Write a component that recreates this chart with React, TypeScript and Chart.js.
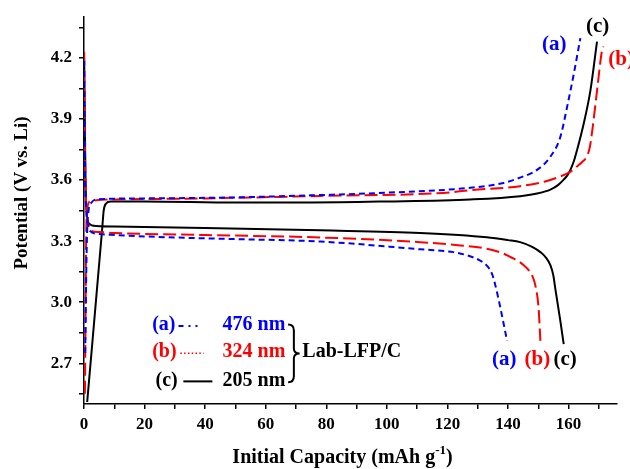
import React, { useEffect, useRef } from 'react';
import { Chart, registerables } from 'chart.js';

Chart.register(...registerables);

const BLUE = '#0000ff';
const RED = '#ff0000';
const BLACK = '#000000';
const FONT = '"Liberation Serif", "Times New Roman", serif';

// (a) 476 nm
const chargeA_cap = [0.4, 0.7, 1.0, 1.5, 2.5, 4, 20, 50, 74.8, 100, 127.5, 138.5, 144, 149.6, 154, 157.3, 159.5, 161.7, 163.9];
const chargeA_v = [2.75, 3.1, 3.33, 3.45, 3.49, 3.505, 3.51, 3.515, 3.525, 3.538, 3.562, 3.586, 3.612, 3.65, 3.715, 3.812, 3.958, 4.119, 4.297];
const dischA_cap = [0.05, 0.2, 0.4, 0.8, 1.3, 2, 5, 10, 30, 50, 78, 111, 122, 127, 130.5, 133, 134.7, 135.8, 137.5, 139.7];
const dischA_v = [4.185, 3.9, 3.6, 3.45, 3.38, 3.35, 3.335, 3.33, 3.318, 3.31, 3.298, 3.26, 3.246, 3.228, 3.207, 3.18, 3.14, 3.085, 2.972, 2.81];

// (b) 324 nm
const chargeB_cap = [0.3, 0.5, 0.7, 1.0, 2, 10, 40, 78, 118.7, 127.5, 144, 152, 157.3, 160.5, 162.8, 164.6, 166, 167, 167.7, 169.4, 171, 171.5];
const chargeB_v = [2.55, 2.9, 3.3, 3.45, 3.495, 3.505, 3.51, 3.522, 3.537, 3.55, 3.57, 3.592, 3.618, 3.64, 3.667, 3.69, 3.715, 3.76, 3.828, 4.038, 4.232, 4.256];
const dischB_cap = [0.05, 0.2, 0.5, 0.8, 1.5, 2.5, 5, 10, 40, 78, 111, 124.3, 133, 138, 140.8, 143.8, 146.3, 148, 149, 150.1, 150.7];
const dischB_v = [4.23, 3.9, 3.6, 3.45, 3.38, 3.35, 3.345, 3.34, 3.33, 3.318, 3.295, 3.279, 3.263, 3.242, 3.222, 3.198, 3.166, 3.13, 3.085, 2.972, 2.81];

// (c) 205 nm
const chargeC_cap = [1.05, 6.0, 6.5, 7.3, 8.7, 20, 50, 75, 100, 127.5, 144, 150, 154, 156.5, 158.4, 159.6, 160.6, 161.8, 162.8, 165, 167.2, 169.4];
const chargeC_v = [2.51, 3.36, 3.45, 3.485, 3.495, 3.495, 3.49, 3.49, 3.495, 3.505, 3.521, 3.535, 3.553, 3.575, 3.602, 3.623, 3.65, 3.695, 3.747, 3.877, 4.038, 4.28];
const dischC_cap = [0.05, 0.5, 1.05, 1.8, 2.7, 10, 40, 78, 111, 133, 140, 144, 148, 150.7, 152.6, 154, 155, 155.6, 157.3, 158.4];
const dischC_v = [4.2, 3.6, 3.41, 3.385, 3.377, 3.372, 3.365, 3.353, 3.34, 3.319, 3.305, 3.295, 3.272, 3.246, 3.218, 3.182, 3.13, 3.069, 2.907, 2.794];

const xTickStep = 10;
const xLabelStep = 20;
const yTickStep = 0.15;
const yLabelStep = 0.3;

const curveLabels = [
  { text: '(a)', x: 155.3, y: 4.264, color: BLUE, align: 'center' },
  { text: '(c)', x: 169.6, y: 4.352, color: BLACK, align: 'center' },
  { text: '(b)', x: 173.1, y: 4.192, color: RED, align: 'left' },
  { text: '(a)', x: 138.8, y: 2.718, color: BLUE, align: 'center' },
  { text: '(b)', x: 149.7, y: 2.718, color: RED, align: 'center' },
  { text: '(c)', x: 158.9, y: 2.718, color: BLACK, align: 'center' },
];

const legendTags = ['(a)', '(b)', '(c)'];
const legendSizes = ['476 nm', '324 nm', '205 nm'];
const legendColors = [BLUE, RED, BLACK];
const legendRowsV = [2.888, 2.754, 2.616];
const legendGroup = 'Lab-LFP/C';

const toPts = (xs: number[], ys: number[]) => xs.map((x, i) => ({ x, y: ys[i] }));

const mk = (label: string, xs: number[], ys: number[], color: string, dash: number[]) => ({
  label,
  data: toPts(xs, ys),
  borderColor: color,
  backgroundColor: color,
  borderWidth: 2,
  borderDash: dash,
  showLine: true,
  pointRadius: 0,
  cubicInterpolationMode: 'monotone',
  fill: false,
});

const annotPlugin = {
  id: 'annot',
  afterDraw(chart: any) {
    const { ctx, scales } = chart;
    const xs = scales.x;
    const ys = scales.y;
    const px = (v: number) => xs.getPixelForValue(v);
    const py = (v: number) => ys.getPixelForValue(v);
    ctx.save();
    ctx.textBaseline = 'middle';
    ctx.font = `bold 21px ${FONT}`;
    for (const l of curveLabels) {
      ctx.fillStyle = l.color;
      ctx.textAlign = l.align;
      ctx.fillText(l.text, px(l.x), py(l.y));
    }
    // legend
    ctx.font = `bold 20px ${FONT}`;
    const tagX = [22.5, 22.5, 23.6];
    for (let i = 0; i < 3; i++) {
      const yy = py(legendRowsV[i]);
      ctx.fillStyle = legendColors[i];
      ctx.textAlign = 'left';
      ctx.fillText(legendTags[i], px(tagX[i]), yy);
      ctx.textAlign = 'right';
      ctx.fillText(legendSizes[i], px(66.5), yy);
      ctx.strokeStyle = legendColors[i];
      ctx.beginPath();
      if (i === 0) {
        ctx.lineWidth = 2;
        ctx.setLineDash([5, 5, 2, 5, 2, 40]);
        ctx.moveTo(px(31.2), yy + 1);
        ctx.lineTo(px(38.5), yy + 1);
      } else if (i === 1) {
        ctx.lineWidth = 1.5;
        ctx.setLineDash([1.5, 2.3]);
        ctx.moveTo(px(31.8), yy + 1);
        ctx.lineTo(px(39.5), yy + 1);
      } else {
        ctx.lineWidth = 2;
        ctx.setLineDash([]);
        ctx.moveTo(px(32.8), yy + 1);
        ctx.lineTo(px(42.4), yy + 1);
      }
      ctx.stroke();
    }
    ctx.setLineDash([]);
    // brace
    const bx0 = px(67.4);
    const bx1 = px(71.2);
    const by0 = py(2.89);
    const by1 = py(2.607);
    const bym = (by0 + by1) / 2;
    const bxm = (bx0 + bx1) / 2;
    ctx.strokeStyle = BLACK;
    ctx.lineWidth = 2;
    ctx.beginPath();
    ctx.moveTo(bx0, by0);
    ctx.quadraticCurveTo(bxm, by0, bxm, by0 + 6);
    ctx.lineTo(bxm, bym - 5);
    ctx.quadraticCurveTo(bxm, bym, bx1, bym);
    ctx.quadraticCurveTo(bxm, bym, bxm, bym + 5);
    ctx.lineTo(bxm, by1 - 6);
    ctx.quadraticCurveTo(bxm, by1, bx0, by1);
    ctx.stroke();
    ctx.fillStyle = BLACK;
    ctx.textAlign = 'left';
    ctx.font = `bold 20px ${FONT}`;
    ctx.fillText(legendGroup, px(72.1), py(legendRowsV[1]));

    // axis titles
    ctx.font = `bold 20px ${FONT}`;
    ctx.fillStyle = BLACK;
    const main = 'Initial Capacity (mAh g';
    const sup = '-1';
    const close = ')';
    const wMain = ctx.measureText(main).width;
    ctx.font = `bold 13px ${FONT}`;
    const wSup = ctx.measureText(sup).width;
    ctx.font = `bold 20px ${FONT}`;
    const wClose = ctx.measureText(close).width;
    const total = wMain + wSup + wClose;
    const cx = 342.5;
    const ty = 458;
    let sx = cx - total / 2;
    ctx.textAlign = 'left';
    ctx.fillText(main, sx, ty);
    sx += wMain;
    ctx.font = `bold 13px ${FONT}`;
    ctx.fillText(sup, sx, ty - 7);
    sx += wSup;
    ctx.font = `bold 20px ${FONT}`;
    ctx.fillText(close, sx, ty);

    ctx.save();
    ctx.translate(22.5, 193);
    ctx.rotate(-Math.PI / 2);
    ctx.textAlign = 'center';
    ctx.font = `bold 19px ${FONT}`;
    ctx.fillText('Potential (V vs. Li)', 0, 0);
    ctx.restore();
    ctx.restore();
  },
};

const whiteBg = {
  id: 'whiteBg',
  beforeDraw(chart: any) {
    const { ctx, width, height } = chart;
    ctx.save();
    ctx.fillStyle = '#fff';
    ctx.fillRect(0, 0, width, height);
    ctx.restore();
  },
};

export default function App() {
  const ref = useRef<HTMLCanvasElement | null>(null);
  useEffect(() => {
    if (!ref.current) return;
    const chart = new Chart(ref.current, {
      type: 'scatter',
      data: {
        datasets: [
          mk('(a) charge', chargeA_cap, chargeA_v, BLUE, [6, 4]),
          mk('(a) discharge', dischA_cap, dischA_v, BLUE, [6, 4]),
          mk('(b) charge', chargeB_cap, chargeB_v, RED, [13, 5]),
          mk('(b) discharge', dischB_cap, dischB_v, RED, [13, 5]),
          mk('(c) charge', chargeC_cap, chargeC_v, BLACK, []),
          mk('(c) discharge', dischC_cap, dischC_v, BLACK, []),
        ],
      },
      options: {
        responsive: false,
        animation: false,
        layout: { padding: { left: 0, right: 13, top: 12, bottom: 0 } },
        plugins: { legend: { display: false }, tooltip: { enabled: false } },
        scales: {
          x: {
            type: 'linear',
            min: 0,
            max: 176,
            border: { display: true, color: BLACK, width: 1.5 },
            grid: { drawOnChartArea: false, drawTicks: true, tickLength: 5, color: BLACK, lineWidth: 1.5 },
            ticks: {
              stepSize: xTickStep,
              includeBounds: false,
              autoSkip: false,
              maxRotation: 0,
              padding: 5,
              color: BLACK,
              font: { family: FONT, weight: 'bold', size: 17 },
              callback: (v: any) => (Math.abs(v % xLabelStep) < 1e-6 ? String(v) : ''),
            },
            afterFit: (s: any) => { s.height = 65; },
          },
          y: {
            type: 'linear',
            min: 2.5,
            max: 4.4,
            border: { display: true, color: BLACK, width: 1.5 },
            grid: { drawOnChartArea: false, drawTicks: true, tickLength: 5, color: BLACK, lineWidth: 1.5 },
            ticks: {
              stepSize: yTickStep,
              includeBounds: false,
              autoSkip: false,
              padding: 7,
              color: BLACK,
              font: { family: FONT, weight: 'bold', size: 17 },
              callback: (v: any) => {
                const r = v / yLabelStep;
                return Math.abs(r - Math.round(r)) < 1e-3 ? Number(v).toFixed(1) : '';
              },
            },
            afterFit: (s: any) => { s.width = 84; },
          },
        },
      },
      plugins: [whiteBg, annotPlugin],
    });
    return () => chart.destroy();
  }, []);
  return (
    <div style={{ position: 'absolute', left: 0, top: 0, width: 630, height: 469, background: '#fff' }}>
      <canvas ref={ref} width={630} height={469} />
    </div>
  );
}
